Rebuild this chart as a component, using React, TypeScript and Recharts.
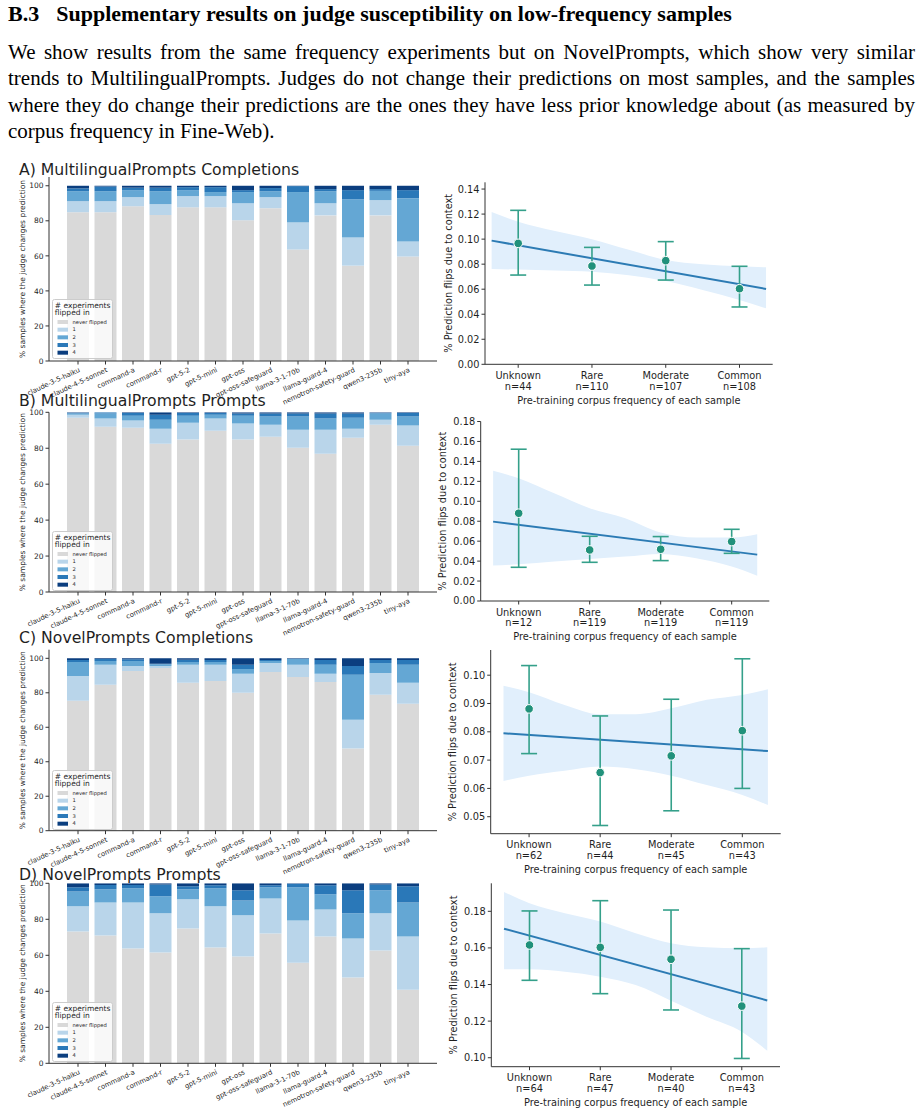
import React from "react";
import {
  BarChart, Bar, XAxis, YAxis, Legend, Label,
  ComposedChart, Area, Line, Scatter, ErrorBar,
} from "recharts";

const models = [
  "claude-3-5-haiku", "claude-4-5-sonnet", "command-a", "command-r", "gpt-5-2",
  "gpt-5-mini", "gpt-oss", "gpt-oss-safeguard", "llama-3-1-70b", "llama-guard-4",
  "nemotron-safety-guard", "qwen3-235b", "tiny-aya",
];
const flipNames = ["never flipped", "1", "2", "3", "4"];
const flipColors = ["#d9d9d9", "#b9d5ea", "#64a7d4", "#2a78b8", "#0b3e7f"];

// A) MultilingualPrompts Completions
const aNever = [84.9, 84.9, 88.3, 83.3, 87.7, 87.7, 80.3, 87.2, 63.6, 83.1, 54.4, 83.1, 59.6];
const aOne = [6.3, 6.3, 5.2, 6.2, 6.4, 6.4, 9.7, 6.3, 15.5, 6.9, 16.1, 8.7, 8.6];
const aTwo = [5.7, 5.7, 4.0, 7.4, 3.4, 2.3, 6.4, 3.4, 17.3, 6.9, 21.8, 5.3, 24.7];
const aThree = [1.6, 2.7, 1.4, 2.0, 1.7, 2.8, 1.1, 1.8, 3.4, 1.2, 5.2, 1.0, 4.6];
const aFour = [1.5, 0.4, 1.1, 1.1, 0.8, 0.8, 2.5, 1.3, 0.2, 1.9, 2.5, 1.9, 2.5];

// B) MultilingualPrompts Prompts
const bNever = [97.0, 92.0, 91.4, 82.5, 84.8, 89.8, 84.8, 86.4, 80.3, 77.0, 85.9, 93.1, 81.4];
const bOne = [1.7, 4.5, 4.0, 8.4, 9.4, 6.7, 8.9, 6.7, 10.0, 13.3, 5.0, 2.8, 11.2];
const bTwo = [0.6, 2.8, 2.7, 5.0, 3.9, 2.2, 4.4, 4.5, 7.3, 6.2, 6.1, 3.4, 5.0];
const bThree = [0.4, 0.7, 1.5, 2.8, 1.5, 0.9, 1.2, 1.7, 1.7, 2.8, 2.3, 0.5, 2.0];
const bFour = [0.3, 0.0, 0.4, 1.3, 0.4, 0.4, 0.7, 0.7, 0.7, 0.7, 0.7, 0.2, 0.4];

// C) NovelPrompts Completions
const cNever = [75.4, 84.6, 92.7, 94.4, 85.8, 86.9, 80.0, 92.1, 89.2, 86.3, 47.7, 78.8, 73.7];
const cOne = [14.4, 11.6, 2.9, 1.2, 10.4, 9.3, 11.0, 5.2, 7.0, 4.7, 16.7, 12.7, 12.1];
const cTwo = [8.1, 2.3, 2.9, 0.9, 1.7, 1.7, 2.8, 1.2, 3.4, 5.2, 26.0, 5.8, 10.4];
const cThree = [1.1, 1.1, 0.9, 0.4, 1.3, 1.1, 2.4, 0.5, 0.2, 2.8, 5.2, 1.7, 2.8];
const cFour = [1.0, 0.4, 0.6, 3.1, 0.8, 1.0, 3.8, 1.0, 0.2, 1.0, 4.4, 1.0, 1.0];

// D) NovelPrompts Prompts
const dNever = [73.2, 71.0, 63.8, 61.5, 74.9, 64.3, 59.3, 72.1, 55.9, 70.4, 47.6, 62.6, 40.9];
const dOne = [14.0, 18.4, 25.6, 21.8, 16.2, 22.9, 22.9, 19.5, 23.5, 15.1, 21.7, 20.7, 29.5];
const dTwo = [8.3, 7.3, 7.8, 9.5, 5.6, 10.0, 8.3, 6.2, 18.4, 8.4, 14.0, 12.8, 19.0];
const dThree = [2.3, 2.4, 1.9, 6.6, 1.6, 1.7, 5.6, 1.1, 2.0, 5.0, 12.8, 3.3, 8.9];
const dFour = [2.2, 0.9, 0.9, 0.6, 1.7, 1.1, 3.9, 1.1, 0.2, 1.1, 3.9, 0.6, 1.7];

const pctTicks = [0, 20, 40, 60, 80, 100];

// frequency panels
const freqCats = ["Unknown", "Rare", "Moderate", "Common"];
const bandX = [-0.36, 0, 0.5, 1, 1.5, 2, 2.5, 3, 3.36];

const aN = [44, 110, 107, 108];
const aMean = [0.0966, 0.0785, 0.0828, 0.0604];
const aLo = [0.0713, 0.0633, 0.0673, 0.0458];
const aHi = [0.123, 0.0934, 0.098, 0.0783];
const aBandLo = [0.0761, 0.0757, 0.075, 0.074, 0.0712, 0.0665, 0.0594, 0.0514, 0.0447];
const aBandHi = [0.1216, 0.1139, 0.1065, 0.1, 0.0915, 0.0833, 0.0799, 0.0783, 0.0775];
const aTrend = [0.0988, 0.0602];
const aTicks = [0, 0.02, 0.04, 0.06, 0.08, 0.1, 0.12, 0.14];

const bN = [12, 119, 119, 119];
const bMean = [0.088, 0.0512, 0.0519, 0.0596];
const bLo = [0.0338, 0.0388, 0.0405, 0.0478];
const bHi = [0.1522, 0.0649, 0.0646, 0.0719];
const bBandLo = [0.0355, 0.0368, 0.0395, 0.0422, 0.0445, 0.0472, 0.0428, 0.0345, 0.0254];
const bBandHi = [0.1305, 0.1231, 0.108, 0.093, 0.083, 0.0686, 0.0636, 0.0636, 0.0669];
const bTrend = [0.0796, 0.0465];
const bTicks = [0, 0.02, 0.04, 0.06, 0.08, 0.1, 0.12, 0.14, 0.16, 0.18];

const cN = [62, 44, 45, 43];
const cMean = [0.0881, 0.0656, 0.0715, 0.0804];
const cLo = [0.0723, 0.0469, 0.0521, 0.06];
const cHi = [0.1034, 0.0856, 0.0915, 0.1058];
const cBandLo = [0.0626, 0.0645, 0.0662, 0.0677, 0.0668, 0.0645, 0.0612, 0.0577, 0.0541];
const cBandHi = [0.0963, 0.094, 0.0895, 0.0862, 0.0862, 0.0883, 0.0913, 0.093, 0.095];
const cTrend = [0.0795, 0.0732];
const cTicks = [0.05, 0.06, 0.07, 0.08, 0.09, 0.1];

const dN = [64, 47, 40, 43];
const dMean = [0.1616, 0.1603, 0.1538, 0.1282];
const dLo = [0.1423, 0.135, 0.1261, 0.0996];
const dHi = [0.1802, 0.1858, 0.1807, 0.1596];
const dBandLo = [0.1483, 0.1483, 0.147, 0.1443, 0.1397, 0.1312, 0.1224, 0.1142, 0.1038];
const dBandHi = [0.1906, 0.1844, 0.1789, 0.1744, 0.168, 0.1625, 0.1603, 0.1598, 0.1603];
const dTrend = [0.1705, 0.1313];
const dTicks = [0.1, 0.12, 0.14, 0.16, 0.18];

const introLines = [
  "We show results from the same frequency experiments but on NovelPrompts, which show very similar",
  "trends to MultilingualPrompts. Judges do not change their predictions on most samples, and the samples",
  "where they do change their predictions are the ones they have less prior knowledge about (as measured by",
  "corpus frequency in Fine-Web).",
];

const FONT = "'DejaVu Sans', sans-serif";
const SERIF = "'Liberation Serif', serif";
const INK = "#1f1f1f";
const SPINE = "#333333";

const stackRows = (s: number[][]) =>
  models.map((model, i) => ({
    model, never: s[0][i], one: s[1][i], two: s[2][i], three: s[3][i], four: s[4][i],
  }));
const flipKeys = ["never", "one", "two", "three", "four"];

const ModelTick = ({ x, y, payload }: any) => (
  <text x={x} y={y} dy={5.5} textAnchor="end" fontSize={6.8} fill={INK} fontFamily={FONT}
    transform={`rotate(-25, ${x}, ${y})`}>
    {payload.value}
  </text>
);

const FlipLegend = () => (
  <svg width={61} height={60} style={{ display: "block" }}>
    <rect x={0.5} y={0.5} width={60} height={59} rx={2} fill="#ffffff" fillOpacity={0.8} stroke="#cccccc" />
    <text x={2.8} y={8.7} fontSize={7.5} fill={INK} fontFamily={FONT}># experiments</text>
    <text x={2.8} y={16.4} fontSize={7.5} fill={INK} fontFamily={FONT}>flipped in</text>
    {flipNames.map((name, i) => (
      <g key={name}>
        <rect x={5.5} y={21 + i * 7.67} width={10.5} height={4} fill={flipColors[i]} />
        <text x={20.5} y={24.8 + i * 7.67} fontSize={5.2} fill={INK} fontFamily={FONT}>{name}</text>
      </g>
    ))}
  </svg>
);

const vLabel = (text: string, x: number, size: number) => (props: any) => {
  const vb = props.viewBox || { y: 0, height: 0 };
  const cy = vb.y + vb.height / 2;
  return (
    <text x={x} y={cy} transform={`rotate(-90, ${x}, ${cy})`} textAnchor="middle"
      dominantBaseline="central" fontSize={size} fill={INK} fontFamily={FONT}>
      {text}
    </text>
  );
};

function StackPanel({ title, titleBase, top, height, plotTop, plotBottom, yMax, series, legendTop, frameRight }: any) {
  const W = 445;
  const rows = stackRows(series);
  return (
    <>
      <div style={{ position: "absolute", left: 0, top }}>
        <BarChart width={W} height={height} data={rows} barCategoryGap="10%"
          margin={{ top: plotTop - top, right: W - 437, left: 0, bottom: 0 }}>
          <XAxis dataKey="model" interval={0} tick={<ModelTick />} tickSize={3.5}
            height={height - (plotBottom - top)} padding={{ left: 15.25, right: 15.25 }}
            axisLine={{ stroke: SPINE }} tickLine={{ stroke: SPINE }} />
          <XAxis xAxisId="frame" orientation="top" dataKey="model" tick={false} tickLine={false}
            height={0} axisLine={{ stroke: SPINE }} />
          <YAxis type="number" domain={[0, yMax]} ticks={pctTicks} allowDataOverflow width={49}
            tickSize={3.5} tick={{ fontSize: 7.5, fill: INK, fontFamily: FONT }}
            axisLine={{ stroke: SPINE }} tickLine={{ stroke: SPINE }}>
            <Label content={vLabel("% samples where the judge changes prediction", 22.7, 7.5)} />
          </YAxis>
          {frameRight && (
            <YAxis yAxisId="frame" orientation="right" width={0} tick={false} tickLine={false}
              axisLine={{ stroke: "#666666", strokeWidth: 1.5 }} />
          )}
          {flipKeys.map((k, i) => (
            <Bar key={k} dataKey={k} stackId="s" fill={flipColors[i]} isAnimationActive={false} />
          ))}
          <Legend content={<FlipLegend />} layout="vertical" align="center" verticalAlign="middle"
            wrapperStyle={{ left: 52, top: legendTop, width: 61, height: 60 }} />
        </BarChart>
      </div>
      <div style={{
        position: "absolute", left: 19, top: titleBase - 13.4, fontFamily: FONT,
        fontSize: 15.7, lineHeight: "16px", color: INK, whiteSpace: "nowrap",
      }}>{title}</div>
    </>
  );
}

const freqTick = (n: number[]) => (props: any) => {
  const { x, y, payload } = props;
  const i = Math.round(payload.value);
  return (
    <text x={x} y={y} textAnchor="middle" fontSize={9.8} fill={INK} fontFamily={FONT}>
      <tspan x={x} dy={9.1}>{freqCats[i]}</tspan>
      <tspan x={x} dy={10.7}>n={n[i]}</tspan>
    </text>
  );
};

const xTitle = (props: any) => {
  const vb = props.viewBox || { x: 0, y: 0, width: 0 };
  return (
    <text x={vb.x + vb.width / 2} y={vb.y + 39.3} textAnchor="middle" fontSize={9.8}
      fill={INK} fontFamily={FONT}>
      Pre-training corpus frequency of each sample
    </text>
  );
};

const dotShape = (p: any) => (
  <circle cx={p.cx} cy={p.cy} r={4.3} fill="#21917b" stroke="#ffffff" strokeWidth={1} />
);

function TrendPanel({ box, plot, xDomain, yDomain, yTicks, yLabelX, n, mean, lo, hi, bandLo, bandHi, trend }: any) {
  const band = bandX.map((x, i) => ({
    x, lo: bandLo[i], hi: bandHi[i],
    trend: i === 0 ? trend[0] : i === bandX.length - 1 ? trend[1] : null,
  }));
  const pts = freqCats.map((c, i) => ({ x: i, y: mean[i], err: [mean[i] - lo[i], hi[i] - mean[i]] }));
  return (
    <div style={{ position: "absolute", left: box.left, top: box.top }}>
      <ComposedChart width={box.width} height={box.height} data={band}
        margin={{ top: plot.t - box.top, right: box.left + box.width - plot.r, left: 0, bottom: 0 }}>
        <XAxis type="number" dataKey="x" domain={xDomain} ticks={[0, 1, 2, 3]} allowDataOverflow
          tick={freqTick(n)} tickSize={3.5} height={box.top + box.height - plot.b}
          axisLine={{ stroke: SPINE }} tickLine={{ stroke: SPINE }}>
          <Label content={xTitle} />
        </XAxis>
        <YAxis type="number" domain={yDomain} ticks={yTicks} allowDataOverflow
          width={plot.l - box.left} tickSize={3.5} tickFormatter={(v: number) => v.toFixed(2)}
          tick={{ fontSize: 9.8, fill: INK, fontFamily: FONT }}
          axisLine={{ stroke: SPINE }} tickLine={{ stroke: SPINE }}>
          <Label content={vLabel("% Prediction flips due to context", yLabelX, 9.8)} />
        </YAxis>
        <Area dataKey={(d: any) => [d.lo, d.hi]} type="monotone" stroke="none" fill="#e1effc"
          fillOpacity={1} isAnimationActive={false} />
        <Line dataKey="trend" connectNulls stroke="#2c7bb4" strokeWidth={2} dot={false}
          isAnimationActive={false} />
        <Scatter data={pts} dataKey="y" shape={dotShape} fill="#21917b" isAnimationActive={false}>
          <ErrorBar dataKey="err" direction="y" width={8} stroke="#34a08a" strokeWidth={1.6} />
        </Scatter>
      </ComposedChart>
    </div>
  );
}

export default function App() {
  return (
    <div style={{ position: "absolute", left: 0, top: 0, width: 922, height: 1115, background: "#ffffff", overflow: "hidden" }}>
      <div style={{
        position: "absolute", left: 8, top: 2, fontFamily: SERIF,
        fontWeight: 700, fontSize: 22, lineHeight: "24px", color: "#000", whiteSpace: "nowrap",
      }}>
        <span style={{ marginRight: 17 }}>B.3</span>Supplementary results on judge susceptibility on low-frequency samples
      </div>
      <div style={{ position: "absolute", left: 8, top: 39, width: 907, fontFamily: SERIF, fontSize: 21, lineHeight: "26.4px", color: "#000" }}>
        {introLines.map((line, i) => (
          <div key={i} style={{
            whiteSpace: "nowrap", textAlign: "justify",
            textAlignLast: i < introLines.length - 1 ? "justify" : "left",
          }}>{line}</div>
        ))}
      </div>

      <StackPanel title="A) MultilingualPrompts Completions" titleBase={175.7} top={170} height={240} plotTop={177}
        plotBottom={361} yMax={105} legendTop={129} frameRight
        series={[aNever, aOne, aTwo, aThree, aFour]} />
      <TrendPanel box={{ left: 430, top: 175, width: 350, height: 235 }}
        plot={{ l: 485, t: 182.3, r: 772.7, b: 364.3 }} xDomain={[-0.45, 3.45]} yDomain={[0, 0.1454]}
        yTicks={aTicks} yLabelX={18.3} n={aN} mean={aMean} lo={aLo} hi={aHi}
        bandLo={aBandLo} bandHi={aBandHi} trend={aTrend} />

      <StackPanel title="B) MultilingualPrompts Prompts" titleBase={406} top={405} height={235} plotTop={412.3}
        plotBottom={592} yMax={100} legendTop={126} frameRight={false}
        series={[bNever, bOne, bTwo, bThree, bFour]} />
      <TrendPanel box={{ left: 430, top: 412, width: 350, height: 230 }}
        plot={{ l: 480.7, t: 421.5, r: 769.3, b: 601 }} xDomain={[-0.535, 3.53]} yDomain={[0, 0.18]}
        yTicks={bTicks} yLabelX={12.7} n={bN} mean={bMean} lo={bLo} hi={bHi}
        bandLo={bBandLo} bandHi={bBandHi} trend={bTrend} />

      <StackPanel title="C) NovelPrompts Completions" titleBase={643} top={640} height={236} plotTop={649.7}
        plotBottom={830.7} yMax={105} legendTop={129.7} frameRight
        series={[cNever, cOne, cTwo, cThree, cFour]} />
      <TrendPanel box={{ left: 430, top: 643, width: 360, height: 237 }}
        plot={{ l: 490.7, t: 650, r: 780.7, b: 833.7 }} xDomain={[-0.54, 3.54]} yDomain={[0.044, 0.1089]}
        yTicks={cTicks} yLabelX={22.7} n={cN} mean={cMean} lo={cLo} hi={cHi}
        bandLo={cBandLo} bandHi={cBandHi} trend={cTrend} />

      <StackPanel title="D) NovelPrompts Prompts" titleBase={880} top={876} height={239} plotTop={883.3}
        plotBottom={1063.3} yMax={100} legendTop={125.7} frameRight
        series={[dNever, dOne, dTwo, dThree, dFour]} />
      <TrendPanel box={{ left: 430, top: 878, width: 360, height: 237 }}
        plot={{ l: 491.3, t: 883.3, r: 780, b: 1066.7 }} xDomain={[-0.54, 3.54]} yDomain={[0.0951, 0.1953]}
        yTicks={dTicks} yLabelX={23.3} n={dN} mean={dMean} lo={dLo} hi={dHi}
        bandLo={dBandLo} bandHi={dBandHi} trend={dTrend} />
    </div>
  );
}
